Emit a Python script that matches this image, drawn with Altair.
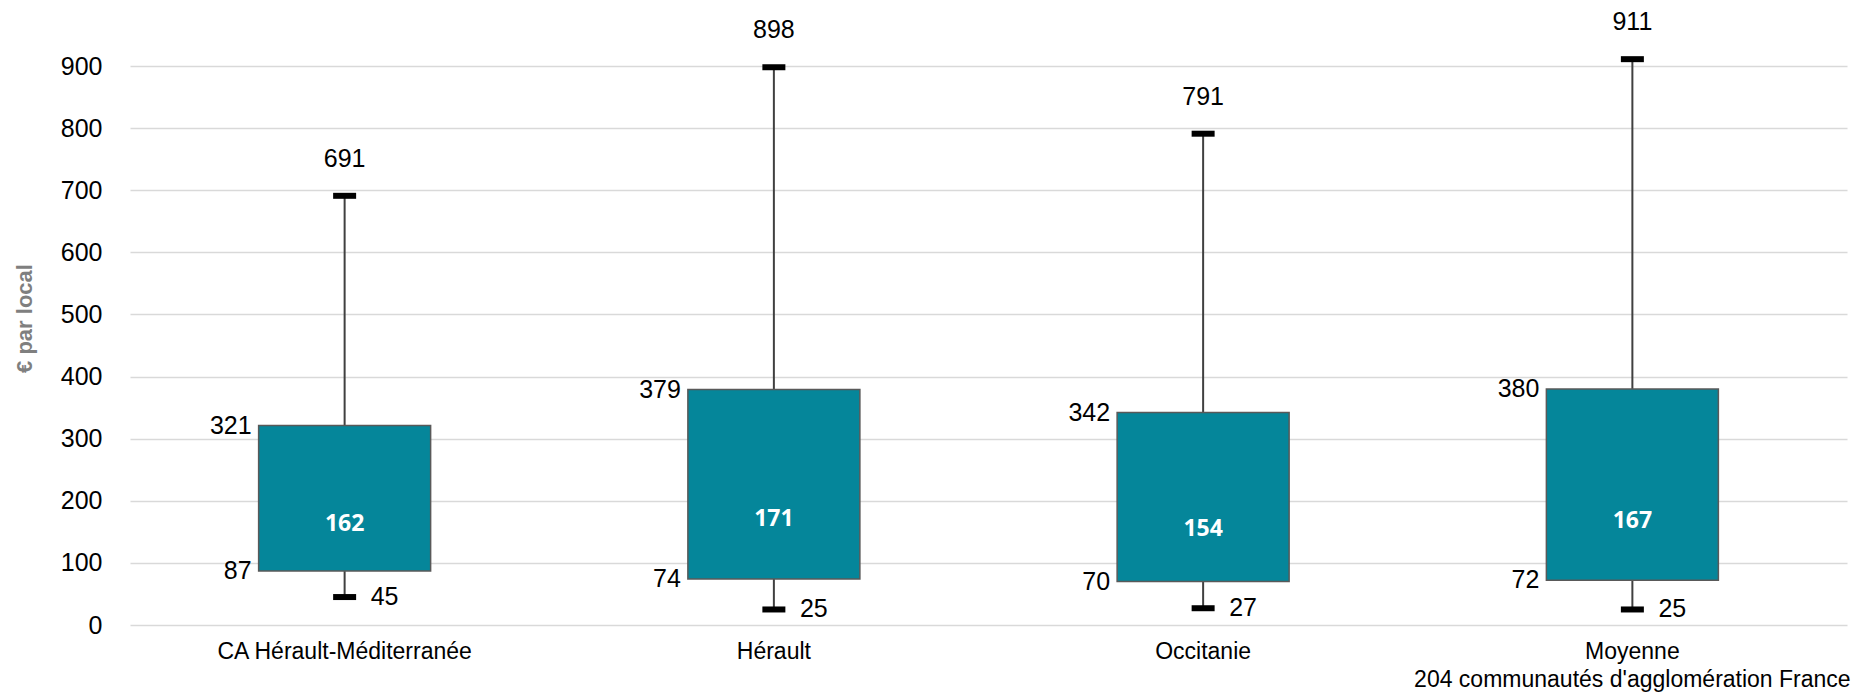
import altair as alt
import pandas as pd

# Distribution par territoire (€ par local)
categories = [
    "CA Hérault-Méditerranée",
    "Hérault",
    "Occitanie",
    "Moyenne\n204 communautés d'agglomération France",
]
minimum = [45, 25, 27, 25]
q1 = [87, 74, 70, 72]
median = [162, 171, 154, 167]
q3 = [321, 379, 342, 380]
maximum = [691, 898, 791, 911]

df = pd.DataFrame({
    "cat": categories,
    "min": minimum,
    "q1": q1,
    "med": median,
    "q3": q3,
    "max": maximum,
})

FONT = "Liberation Sans"
TEAL = "#05869a"

x = alt.X(
    "cat:N",
    sort=categories,
    title=None,
    scale=alt.Scale(paddingInner=0, paddingOuter=0),
    axis=alt.Axis(
        labelAngle=0,
        labelFont=FONT,
        labelFontSize=23,
        labelColor="#000000",
        labelPadding=15,
        labelLineHeight=28,
        labelLimit=1000,
        labelOverlap=False,
        labelExpr="split(datum.label, '\\n')",
        domain=False,
        ticks=False,
        tickSize=0,
        grid=False,
    ),
)

y_axis = alt.Axis(
    values=list(range(0, 1000, 100)),
    labelFont=FONT,
    labelFontSize=25,
    labelColor="#000000",
    labelPadding=28,
    domain=False,
    ticks=False,
    tickSize=0,
    grid=True,
    gridColor="#d9d9d9",
    gridWidth=1.5,
    title="€ par local",
    titleFont=FONT,
    titleFontSize=22,
    titleFontWeight="bold",
    titleColor="#7f7f7f",
    titleAngle=-90,
    titleAlign="center",
    titleBaseline="middle",
    titleX=-106,
    titleY=252,
)

base = alt.Chart(df).encode(x=x)

whisker = base.mark_rule(color="#404040", strokeWidth=2).encode(
    y=alt.Y("min:Q", scale=alt.Scale(domain=[0, 900], nice=False, zero=True), axis=y_axis),
    y2="max:Q",
)

box = base.mark_bar(size=172, fill=TEAL, stroke="#595959", strokeWidth=1.5).encode(
    y="q1:Q",
    y2="q3:Q",
)

cap_style = dict(color="#000000", opacity=1, thickness=6, size=23, orient="horizontal")
cap_min = base.mark_tick(**cap_style).encode(y="min:Q")
cap_max = base.mark_tick(**cap_style).encode(y="max:Q")

txt = dict(font=FONT, fontSize=25, color="#000000", baseline="middle")

lbl_max = base.mark_text(align="center", dy=-37, **txt).encode(y="max:Q", text="max:Q")
lbl_min = base.mark_text(align="left", dx=26, **txt).encode(y="min:Q", text="min:Q")
lbl_q3 = base.mark_text(align="right", dx=-93, **txt).encode(y="q3:Q", text="q3:Q")
lbl_q1 = base.mark_text(align="right", dx=-93, **txt).encode(y="q1:Q", text="q1:Q")
lbl_med = base.mark_text(
    align="center", baseline="middle", font="Open Sans", fontSize=23,
    fontWeight="bold", color="#ffffff",
).encode(y="med:Q", text="med:Q")

chart = (
    alt.layer(whisker, box, cap_min, cap_max, lbl_max, lbl_min, lbl_q3, lbl_q1, lbl_med)
    .properties(
        width=1717,
        height=559,
        autosize=alt.AutoSizeParams(type="none"),
        padding={"left": 130, "top": 66, "right": 16, "bottom": 69},
        background="#ffffff",
    )
    .configure_view(stroke=None)
)

chart.save("out.html", embed_options={"renderer": "svg", "actions": False})
